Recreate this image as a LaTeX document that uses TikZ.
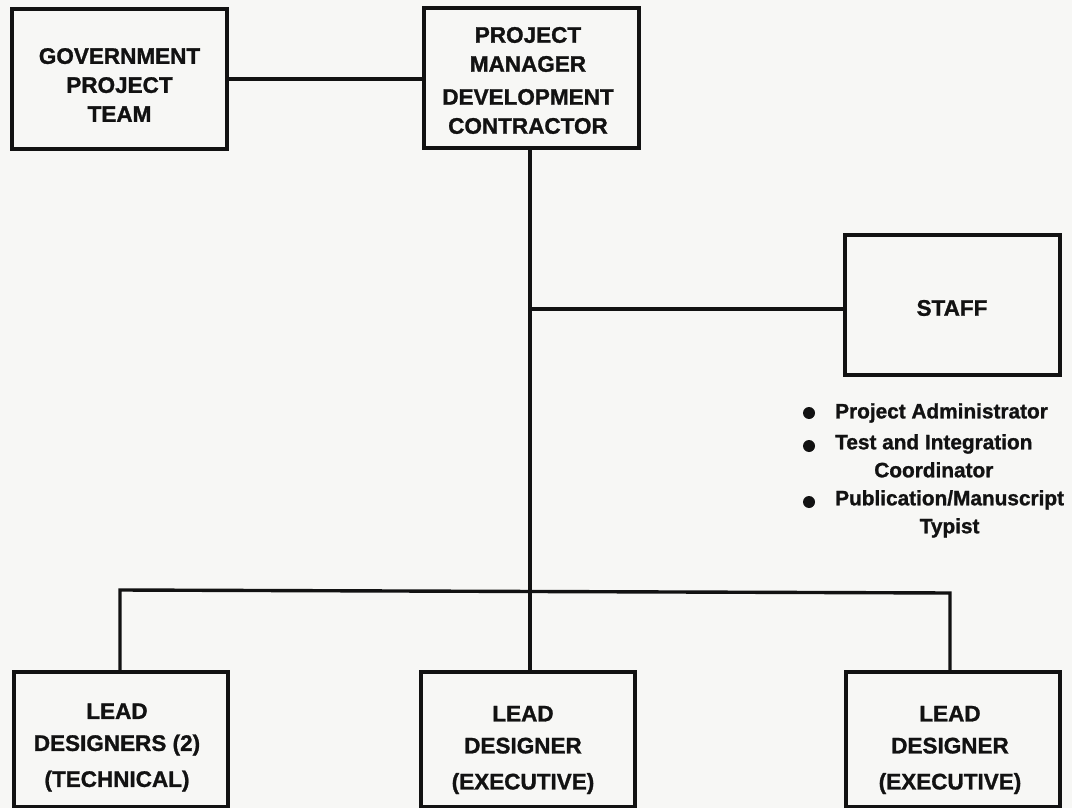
\documentclass[tikz,border=0pt]{standalone}
\usepackage{fontspec}
\setmainfont{Liberation Sans}[BoldFeatures={FakeBold=1.2}]
\definecolor{ink}{HTML}{121212}
\definecolor{paper}{HTML}{F7F7F5}
\tikzset{
  orgbox/.style={draw=ink, line width=3.4pt, minimum width=215pt, minimum height=140pt, inner sep=0pt},
  lowbox/.style={orgbox, minimum width=214pt, minimum height=135pt},
  boxtext/.style={text=ink, align=center, inner sep=0pt, font=\fontsize{22.5}{29}\selectfont\bfseries},
  itemtext/.style={text=ink, align=center, inner sep=0pt, anchor=west, font=\fontsize{20.8}{28}\selectfont\bfseries},
  dot/.style={circle, fill=ink, inner sep=0pt, minimum size=12pt},
  wire/.style={draw=ink, line width=3.4pt}
}
\begin{document}
\begin{tikzpicture}[x=1pt, y=-1pt]
\fill[paper] (0,0) rectangle (1072,808);
\useasboundingbox (0,0) rectangle (1072,808);
\begin{scope}
\clip (0,0) rectangle (1072,808);
% boxes
\node[orgbox] (gov) at (119.5,79) {};
\node[orgbox] (pm) at (531.5,78) {};
\node[orgbox] (staff) at (952.5,305) {};
\node[lowbox] (ld1) at (121,739.5) {};
\node[lowbox] (ld2) at (528,739.5) {};
\node[lowbox] (ld3) at (953,739.5) {};
% texts
\node[boxtext] (govt) at (119.5,85) {GOVERNMENT\\PROJECT\\TEAM};
\node[boxtext] (pmt) at (528,80.5) {PROJECT\\MANAGER\\[4pt]DEVELOPMENT\\CONTRACTOR};
\node[boxtext] (stafft) at (952,308) {STAFF};
\node[boxtext, font=\fontsize{22.5}{32}\selectfont\bfseries] (ld1t) at (117,747.5) {LEAD\\DESIGNERS (2)\\[4pt](TECHNICAL)};
\node[boxtext, font=\fontsize{22.5}{32}\selectfont\bfseries] (ld2t) at (523,750) {LEAD\\DESIGNER\\[4pt](EXECUTIVE)};
\node[boxtext, font=\fontsize{22.5}{32}\selectfont\bfseries] (ld3t) at (950,750) {LEAD\\DESIGNER\\[4pt](EXECUTIVE)};
% staff list
\node[dot] (b1) at (809,413) {};
\node[dot] (b2) at (809,446) {};
\node[dot] (b3) at (809,502) {};
\node[itemtext] (i1) at (835,413) {Project Administrator};
\node[itemtext, anchor=north west] (i2) at (835,434) {Test and Integration\\Coordinator};
\node[itemtext, anchor=north west] (i3) at (835,490) {Publication/Manuscript\\Typist};
% connectors
\coordinate (tap) at (530,309);
\draw[wire] (gov.east) -- (gov.east -| pm.west);
\draw[wire] (pm.south -| tap) -- (ld2.north -| tap);
\draw[wire] (tap) -- (tap -| staff.west);
\draw[wire] (ld1.north -| 120,0) -- (120,590) -- (950,593) -- (ld3.north -| 950,0);
\end{scope}
\end{tikzpicture}
\end{document}
